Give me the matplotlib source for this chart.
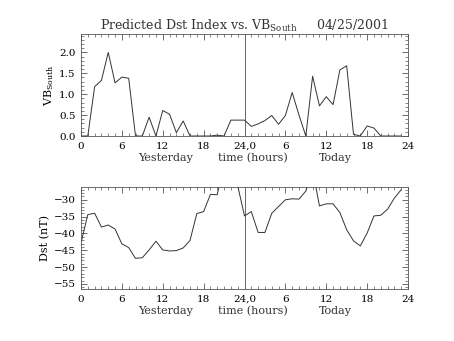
import matplotlib
matplotlib.use("Agg")
import matplotlib.pyplot as plt
from matplotlib.ticker import MultipleLocator, FormatStrFormatter

hours = list(range(0, 48))
vb_south = [0.0, 0.0, 1.18, 1.33, 2.0, 1.27, 1.41, 1.38, 0.0, 0.0,
            0.45, 0.0, 0.61, 0.52, 0.08, 0.36, 0.0, 0.0, 0.0, 0.0,
            0.02, 0.0, 0.38, 0.38, 0.38, 0.23, 0.29, 0.37, 0.49, 0.28,
            0.49, 1.04, 0.50, 0.0, 1.43, 0.72, 0.94, 0.75, 1.58, 1.68,
            0.04, 0.0, 0.24, 0.19, 0.0, 0.0, 0.0, 0.0]
dst = [-42.8, -34.4, -34.0, -38.1, -37.5, -38.7, -43.1, -44.2, -47.4, -47.2,
       -44.9, -42.3, -44.9, -45.2, -45.1, -44.3, -42.1, -34.1, -33.5, -28.4,
       -28.5, -19.0, -18.0, -25.8, -34.8, -33.5, -39.7, -39.7, -34.0, -32.0,
       -30.0, -29.7, -29.8, -27.4, -21.0, -31.8, -31.2, -31.2, -33.8, -38.9,
       -42.2, -43.7, -39.9, -34.8, -34.6, -32.8, -29.5, -27.0]

tick_pos = [0, 6, 12, 18, 24, 30, 36, 42, 48]
tick_lbl = ["0", "6", "12", "18", "24,0", "6", "12", "18", "24"]

plt.rcParams['font.family'] = ['DejaVu Serif']
fig = plt.figure(figsize=(4.54, 3.41), dpi=100)
W, H = 454, 341

def make_ax(top, bottom):
    ax = fig.add_axes([81 / W, 1 - bottom / H, (408 - 81) / W, (bottom - top) / H])
    ax.set_xlim(0, 48)
    ax.set_xticks(tick_pos)
    ax.set_xticklabels(tick_lbl)
    ax.xaxis.set_minor_locator(MultipleLocator(1))
    ax.tick_params(which='both', direction='in', top=True, right=True,
                   labelsize=7.5, color='#555555', pad=4)
    ax.tick_params(which='major', length=4, width=0.6)
    ax.tick_params(which='minor', length=2, width=0.5)
    for s in ax.spines.values():
        s.set_linewidth(0.6)
        s.set_color('#555555')
    ax.axvline(24, color='#666666', lw=0.7)
    return ax

ax1 = make_ax(34, 136)
ax1.plot(hours, vb_south, color='#333333', lw=0.7)
ax1.set_ylim(0, 2.44)
ax1.yaxis.set_major_locator(MultipleLocator(0.5))
ax1.yaxis.set_minor_locator(MultipleLocator(0.1))
ax1.yaxis.set_major_formatter(FormatStrFormatter('%.1f'))
ax1.set_ylabel(r"VB$_{\mathregular{South}}$", fontsize=8, labelpad=2)
ax1.set_title(r"Predicted Dst Index vs. VB$_{\mathregular{South}}$     04/25/2001",
              fontsize=9, color='#333333', pad=3)

ax2 = make_ax(187, 289)
ax2.plot(hours, dst, color='#333333', lw=0.7)
ax2.set_ylim(-56.5, -26.2)
ax2.yaxis.set_major_locator(MultipleLocator(5))
ax2.yaxis.set_minor_locator(MultipleLocator(1))
ax2.set_ylabel("Dst (nT)", fontsize=8, labelpad=2)

for ax, ytxt in [(ax1, 158), (ax2, 311)]:
    yy = 1 - ytxt / H
    fig.text(166 / W, yy, "Yesterday", ha='center', va='center', fontsize=8, color='#333333')
    fig.text(253 / W, yy, "time (hours)", ha='center', va='center', fontsize=8, color='#333333')
    fig.text(335 / W, yy, "Today", ha='center', va='center', fontsize=8, color='#333333')

fig.savefig("out.png", dpi=100)
